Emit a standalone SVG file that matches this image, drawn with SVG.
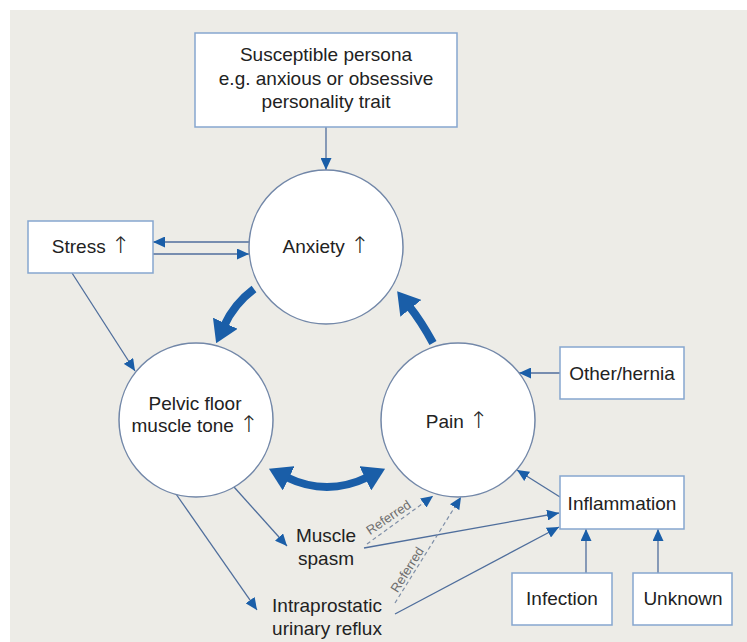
<svg xmlns="http://www.w3.org/2000/svg" width="747" height="642" viewBox="0 0 747 642">
<style>
.box{fill:#fff;stroke:#86A6CF;stroke-width:1.5}
.circ{fill:#fff;stroke:#7287A8;stroke-width:1.5}
.t{font-family:"Liberation Sans",Arial,sans-serif;font-size:19px;fill:#222;text-anchor:middle}
.up{font-family:"DejaVu Sans",sans-serif;font-size:23px;font-weight:200;fill:#222}
.ref{font-family:"Liberation Sans",Arial,sans-serif;font-size:13px;fill:#6E6E6E;text-anchor:middle}
.thin{fill:none;stroke:#4F6E9C;stroke-width:1.3}
.dash{fill:none;stroke:#7F8FA8;stroke-width:1.2;stroke-dasharray:4 3}
.thick{fill:none;stroke:#1A5EA8;stroke-width:8}
</style>
<defs>
<marker id="ah" markerUnits="userSpaceOnUse" markerWidth="12" markerHeight="11" viewBox="0 0 12 11" refX="12" refY="5.5" orient="auto">
<path d="M0,0 L12,5.5 L0,11 z" fill="#1A5EA8"/>
</marker>
<marker id="big" markerUnits="userSpaceOnUse" markerWidth="22" markerHeight="27" viewBox="0 0 22 27" refX="3" refY="13.5" orient="auto-start-reverse">
<path d="M0,0 L22,13.5 L0,27 z" fill="#1A5EA8"/>
</marker>
</defs>
<rect x="10" y="10" width="737" height="632" fill="#EDECE7"/>
<g id="connectors">
<path class="thin" d="M326 127 L326 170" marker-end="url(#ah)"/>
<path class="thin" d="M249 242 L153 242" marker-end="url(#ah)"/>
<path class="thin" d="M153 254 L249 254" marker-end="url(#ah)"/>
<path class="thin" d="M72 273 L135 371" marker-end="url(#ah)"/>
<path class="thin" d="M560 373 L519 373" marker-end="url(#ah)"/>
<path class="thin" d="M560 497 L517 470" marker-end="url(#ah)"/>
<path class="thin" d="M234 487 L287 546" marker-end="url(#ah)"/>
<path class="thin" d="M176 494 L257 610" marker-end="url(#ah)"/>
<path class="thin" d="M364 548 L559 513" marker-end="url(#ah)"/>
<path class="thin" d="M395 614 L559 527" marker-end="url(#ah)"/>
<path class="thin" d="M586 573 L586 529" marker-end="url(#ah)"/>
<path class="thin" d="M658 573 L658 529" marker-end="url(#ah)"/>
<path class="dash" d="M367 544 L433 496" marker-end="url(#ah)"/>
<path class="dash" d="M395 603 L461 497" marker-end="url(#ah)"/>
<text class="ref" transform="translate(391,521) rotate(-34)">Referred</text>
<text class="ref" transform="translate(411,572) rotate(-58)">Referred</text>
<path class="thick" d="M254 289 Q234 304 224 326" marker-end="url(#big)"/>
<path class="thick" d="M433 343 Q421 321 409 306" marker-end="url(#big)"/>
<path class="thick" d="M286 477 Q327 497 368 477" marker-start="url(#big)" marker-end="url(#big)"/>
</g>
<g id="persona">
<rect class="box" x="195" y="33" width="262" height="94"/>
<text class="t" x="326" y="61">Susceptible persona</text>
<text class="t" x="326" y="85">e.g. anxious or obsessive</text>
<text class="t" x="326" y="108">personality trait</text>
</g>
<g id="stress">
<rect class="box" x="28" y="221" width="125" height="52"/>
<text class="t" x="91" y="253">Stress <tspan class="up">↑</tspan></text>
</g>
<g id="anxiety">
<circle class="circ" cx="326" cy="247" r="77"/>
<text class="t" x="326" y="253">Anxiety <tspan class="up">↑</tspan></text>
</g>
<g id="pelvic">
<circle class="circ" cx="196" cy="420" r="77"/>
<text class="t" x="195" y="410">Pelvic floor</text>
<text class="t" x="195" y="432">muscle tone <tspan class="up">↑</tspan></text>
</g>
<g id="pain">
<circle class="circ" cx="458" cy="420" r="77"/>
<text class="t" x="457" y="428">Pain <tspan class="up">↑</tspan></text>
</g>
<g id="other">
<rect class="box" x="560" y="347" width="124" height="52"/>
<text class="t" x="622" y="380">Other/hernia</text>
</g>
<g id="inflammation">
<rect class="box" x="560" y="476" width="124" height="53"/>
<text class="t" x="622" y="510">Inflammation</text>
</g>
<g id="infection">
<rect class="box" x="512" y="573" width="100" height="52"/>
<text class="t" x="562" y="605">Infection</text>
</g>
<g id="unknown">
<rect class="box" x="633" y="573" width="99" height="52"/>
<text class="t" x="683" y="605">Unknown</text>
</g>
<g id="spasm">
<text class="t" x="326" y="542">Muscle</text>
<text class="t" x="326" y="565">spasm</text>
</g>
<g id="reflux">
<text class="t" x="327" y="612">Intraprostatic</text>
<text class="t" x="327" y="635">urinary reflux</text>
</g>
</svg>
